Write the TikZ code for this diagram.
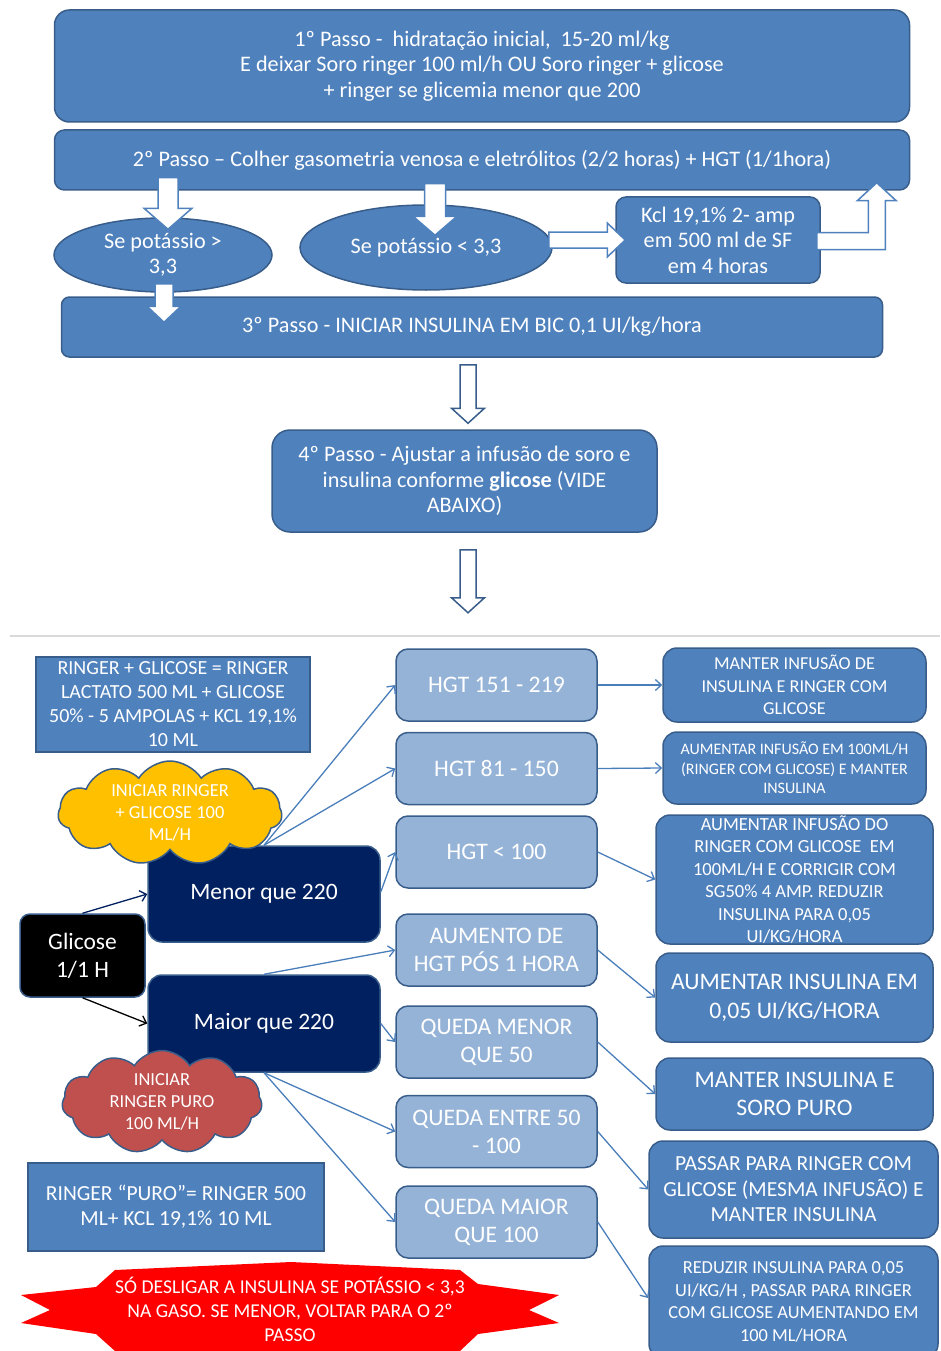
\documentclass[tikz,border=0pt]{standalone}
\usepackage{fontspec}
\setmainfont{Carlito}
\usetikzlibrary{shapes.geometric,shapes.symbols,arrows.meta,calc}

\definecolor{azul}{HTML}{4F81BD}
\definecolor{borda}{HTML}{385D8A}
\definecolor{azulclaro}{HTML}{95B3D7}
\definecolor{marinho}{HTML}{002060}
\definecolor{amarelo}{HTML}{FFC000}
\definecolor{tijolo}{HTML}{C0504D}
\definecolor{linhaseta}{HTML}{4A7EBB}

\newcommand{\fs}[2]{\fontsize{#1}{#2}\selectfont}
% seta larga para baixo: origem, ponta, meia haste, meia cabeca, cabeca
\newcommand{\blocobaixo}[5]{%
  \draw[bloco] let \p1=(#1), \p2=(#2) in
    (\x1-#3,\y1) -- (\x1+#3,\y1) -- (\x1+#3,\y2+#5) -- (\x1+#4,\y2+#5)
    -- (\x1,\y2) -- (\x1-#4,\y2+#5) -- (\x1-#3,\y2+#5) -- cycle;}

\tikzset{
  passo/.style={draw=borda, fill=azul, line width=1.5pt, rounded corners=15pt,
    text=white, align=center, inner sep=0pt, font=\fs{22.2}{25.5}},
  oval/.style={ellipse, draw=borda, fill=azul, line width=1.5pt,
    text=white, align=center, inner sep=0pt, font=\fs{22.2}{25.5}},
  bloco/.style={draw=azul, fill=white, line width=1.5pt},
  oco/.style={draw=borda, fill=white, line width=1.5pt},
  hgt/.style={draw=borda, fill=azulclaro, line width=1.5pt, rounded corners=12pt,
    text=white, align=center, inner sep=0pt, minimum width=201pt,
    minimum height=72pt, font=\fs{23.7}{28}},
  conduta/.style={draw=borda, fill=azul, line width=1.5pt, rounded corners=14pt,
    text=white, align=center, inner sep=0pt},
  nota/.style={draw=borda, fill=azul, line width=1.5pt, text=white,
    align=center, inner sep=0pt},
  escuro/.style={draw=borda, fill=marinho, line width=1.5pt, rounded corners=14pt,
    text=white, align=center, inner sep=0pt, font=\fs{23.5}{28}},
  nuvem/.style={cloud, cloud puffs=11, cloud puff arc=115, aspect=2.1,
    draw=borda, line width=1.5pt, text=white, align=center, inner sep=0pt,
    font=\fs{18.4}{22}},
  liga/.style={draw=linhaseta, line width=1.3pt,
    -{Straight Barb[length=6pt,width=11pt]}},
}

\begin{document}
\begin{tikzpicture}[x=1pt,y=-1pt]
\useasboundingbox (0,0) rectangle (940,1351);

% parte de cima
\node[passo, minimum width=855pt, minimum height=112pt] (s1) at (482,66)
  {1º Passo -\ \ hidratação inicial,\ \ 15-20 ml/kg\\
   E deixar Soro ringer 100 ml/h OU Soro ringer + glicose\\
   + ringer se glicemia menor que 200};
\node[passo, minimum width=855pt, minimum height=60pt, rounded corners=10pt] (s2) at (482,160)
  {2º Passo -- Colher gasometria venosa e eletrólitos (2/2 horas) + HGT (1/1hora)};
\node[oval, minimum width=218pt, minimum height=74pt] (k1) at (163,255)
  {Se potássio >\\3,3};
\node[oval, minimum width=252pt, minimum height=85pt] (k2) at (426,247.5)
  {Se potássio < 3,3};
\node[passo, rounded corners=10pt, minimum width=204pt, minimum height=86pt] (kcl) at (718,240)
  {Kcl 19,1\% 2- amp\\em 500 ml de SF\\em 4 horas};
\node[passo, rounded corners=8pt, minimum width=821pt, minimum height=60pt] (s3) at (472,327)
  {3º Passo - INICIAR INSULINA EM BIC 0,1 UI/kg/hora};
\node[passo, rounded corners=18pt, minimum width=385pt, minimum height=102pt] (s4) at (464.5,481)
  {4º Passo - Ajustar a infusão de soro e\\
   insulina conforme \textbf{glicose} (VIDE\\ABAIXO)};

\blocobaixo{$(k1.north |- s2.south)+(5,-13)$}{$(k1.north)+(5,12)$}{10pt}{24pt}{21pt}
\blocobaixo{$(k2.north |- s2.south)+(9,-7)$}{$(k2.north)+(9,31)$}{10.5pt}{22pt}{19pt}
\blocobaixo{$(k1.south)+(1,-9)$}{$(k1.south |- s3.north)+(1,26)$}{9pt}{17pt}{16pt}
\draw[bloco] let \p1=($(k2.east)+(-4,-7.5)$), \p2=($(kcl.west)+(10,0)$) in
  (\x1,\y2+8pt) -- (\x2-18pt,\y2+8pt) -- (\x2-18pt,\y2+17pt) -- (\x2,\y2)
  -- (\x2-18pt,\y2-17pt) -- (\x2-18pt,\y2-8pt) -- (\x1,\y2-8pt) -- cycle;
\draw[bloco] let \p1=($(kcl.east)+(-4,1)$), \p2=($(s2.south)+(0,-8)$) in
  (\x1,\y1+8.5pt) -- (\x1+51.5pt,\y1+8.5pt) -- (\x1+51.5pt,\y2-18pt)
  -- (\x1+40.5pt,\y2-18pt) -- (\x1+60pt,\y2) -- (\x1+79.5pt,\y2-18pt)
  -- (\x1+68.5pt,\y2-18pt) -- (\x1+68.5pt,\y1-8.5pt) -- (\x1,\y1-8.5pt) -- cycle;
\draw[oco] let \p1=($(s3.south)+(-4,7)$), \p2=($(s3.south |- s4.north)+(-4,-6)$) in
  (\x1-8pt,\y1) -- (\x1+8pt,\y1) -- (\x1+8pt,\y2+15pt) -- (\x1+16.5pt,\y2+15pt)
  -- (\x1,\y2) -- (\x1-16.5pt,\y2+15pt) -- (\x1-8pt,\y2+15pt) -- cycle;
\draw[oco] let \p1=($(s4.south)+(3.5,17)$), \p2=($(s4.south)+(3.5,80)$) in
  (\x1-8pt,\y1) -- (\x1+8pt,\y1) -- (\x1+8pt,\y2+15pt) -- (\x1+16.5pt,\y2+15pt)
  -- (\x1,\y2) -- (\x1-16.5pt,\y2+15pt) -- (\x1-8pt,\y2+15pt) -- cycle;

\draw[black!15, line width=1.2pt] (10,636) -- (940,636);

% parte de baixo
\node[nota, minimum width=274pt, minimum height=95pt, font=\fs{20}{24}] (rg) at (173,704.5)
  {RINGER + GLICOSE = RINGER\\LACTATO 500 ML + GLICOSE\\50\% - 5 AMPOLAS + KCL 19,1\%\\10 ML};
\node[nota, minimum width=296pt, minimum height=88pt, font=\fs{21.5}{25}] (rp) at (176,1207)
  {RINGER “PURO”= RINGER 500\\ML+ KCL 19,1\% 10 ML};
\node[escuro, minimum width=232pt, minimum height=96pt] (menor) at (264,894) {Menor que 220};
\node[escuro, minimum width=232pt, minimum height=97pt] (maior) at (264,1023.5) {Maior que 220};
\node[nuvem, fill=amarelo, minimum width=224pt, minimum height=104pt] (cg) at (170,813)
  {INICIAR RINGER\\+ GLICOSE 100\\ML/H};
\node[nuvem, fill=tijolo, minimum width=200pt, minimum height=92pt] (cp) at (162,1102)
  {INICIAR\\RINGER PURO\\100 ML/H};
\node[escuro, fill=black, rounded corners=10pt, minimum width=125pt, minimum height=83pt] (gl) at (82.5,955.5)
  {Glicose\\1/1 H};

\node[hgt] (h1) at (496.5,685) {HGT 151 - 219};
\node[hgt] (h2) at (496.5,768.5) {HGT 81 - 150};
\node[hgt] (h3) at (496.5,852) {HGT < 100};
\node[hgt] (h4) at (496.5,950) {AUMENTO DE\\HGT PÓS 1 HORA};
\node[hgt] (h5) at (496.5,1042) {QUEDA MENOR\\QUE 50};
\node[hgt] (h6) at (496.5,1131.5) {QUEDA ENTRE 50\\- 100};
\node[hgt] (h7) at (496.5,1222) {QUEDA MAIOR\\QUE 100};

\node[conduta, minimum width=263pt, minimum height=74pt, font=\fs{18.2}{22.5}] (r1) at (794.5,685)
  {MANTER INFUSÃO DE\\INSULINA E RINGER COM\\GLICOSE};
\node[conduta, minimum width=263pt, minimum height=72pt, font=\fs{16}{19.5}] (r2) at (794.5,768)
  {AUMENTAR INFUSÃO EM 100ML/H\\(RINGER COM GLICOSE) E MANTER\\INSULINA};
\node[conduta, minimum width=277pt, minimum height=129pt, font=\fs{18.5}{22.4}] (r3) at (794.5,879.5)
  {AUMENTAR INFUSÃO DO\\RINGER COM GLICOSE\ \ EM\\100ML/H E CORRIGIR COM\\SG50\% 4 AMP. REDUZIR\\INSULINA PARA 0,05\\UI/KG/HORA};
\node[conduta, minimum width=277pt, minimum height=89pt, font=\fs{23.7}{29}] (r4) at (794.5,997.5)
  {AUMENTAR INSULINA EM\\0,05 UI/KG/HORA};
\node[conduta, minimum width=277pt, minimum height=72pt, font=\fs{23.7}{28}] (r5) at (794.5,1094)
  {MANTER INSULINA E\\SORO PURO};
\node[conduta, minimum width=289pt, minimum height=97pt, font=\fs{21.5}{25.5}] (r6) at (793.5,1189.5)
  {PASSAR PARA RINGER COM\\GLICOSE (MESMA INFUSÃO) E\\MANTER INSULINA};
\node[conduta, minimum width=289pt, minimum height=112pt, font=\fs{18.4}{22.7}] (r7) at (793.5,1302)
  {REDUZIR INSULINA PARA 0,05\\UI/KG/H , PASSAR PARA RINGER\\COM GLICOSE AUMENTANDO EM\\100 ML/HORA};

% aviso em vermelho
\fill[red] (21,1295) -- (96,1287) -- (115,1270) -- (291,1262) -- (460,1270) -- (478,1284)
  -- (559,1295) -- (529,1310) -- (559,1323) -- (478,1334) -- (460,1351) -- (291,1356)
  -- (115,1351) -- (96,1334) -- (21,1323) -- (50,1310) -- cycle;
\node[text=white, align=center, font=\fs{19.6}{24}] (av) at (290,1309)
  {SÓ DESLIGAR A INSULINA SE POTÁSSIO < 3,3\\NA GASO. SE MENOR, VOLTAR PARA O 2º\\PASSO};

% ligacoes
\draw[liga, draw=marinho] (gl.north) -- (menor.west);
\draw[liga, draw=black] (gl.south) -- (maior.west);
\draw[liga] (menor.north) -- (h1.west);
\draw[liga] (menor.north) -- (h2.west);
\draw[liga] ($(menor.east)+(0,-2)$) -- (h3.west);
\draw[liga] (maior.north) -- (h4.west);
\draw[liga] (maior.east) -- (h5.west);
\draw[liga] (maior.south) -- (h6.west);
\draw[liga] (maior.south) -- (h7.west);
\draw[liga] (h1.east) -- (r1.west);
\draw[liga] (h2.east) -- (r2.west);
\draw[liga] (h3.east) -- (r3.west);
\draw[liga] (h4.east) -- (r4.west);
\draw[liga] (h5.east) -- (r5.west);
\draw[liga] (h6.east) -- (r6.west);
\draw[liga] (h7.east) -- ($(r7.west)+(0,-4)$);
\end{tikzpicture}
\end{document}
